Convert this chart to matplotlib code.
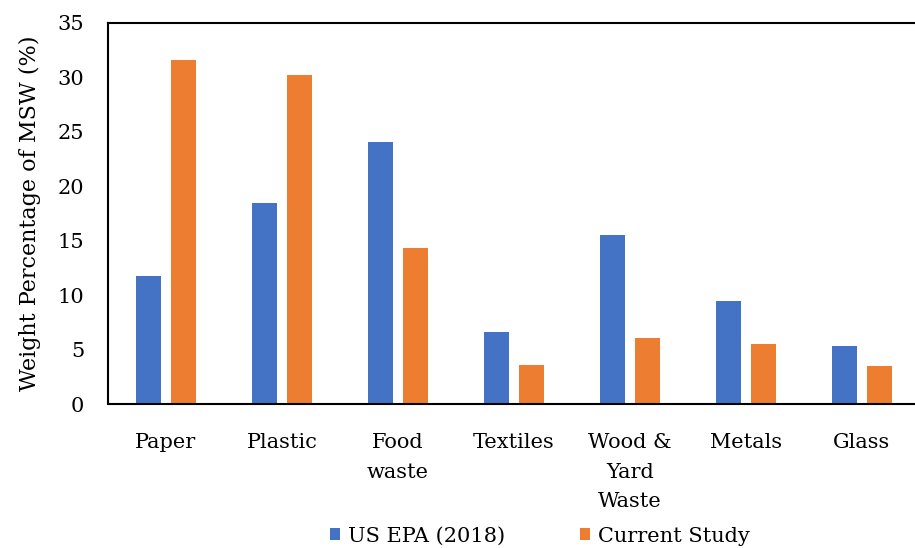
import matplotlib
matplotlib.use("Agg")
import matplotlib.pyplot as plt
import numpy as np
from matplotlib.patches import Patch

categories = ["Paper", "Plastic", "Food\nwaste", "Textiles", "Wood &\nYard\nWaste", "Metals", "Glass"]
us_epa_2018 = [11.8, 18.5, 24.1, 6.6, 15.5, 9.5, 5.3]
current_study = [31.6, 30.2, 14.3, 3.6, 6.1, 5.5, 3.5]
series_names = ["US EPA (2018)", "Current Study"]
y_ticks = [0, 5, 10, 15, 20, 25, 30, 35]

BLUE = "#4472C4"
ORANGE = "#ED7D31"
FONT = "DejaVu Serif"

plt.rcParams["font.family"] = FONT

fig = plt.figure(figsize=(9.15, 5.48), dpi=100)
ax = fig.add_axes([108 / 915, 1 - 404 / 548, 812 / 915, (404 - 23) / 548])

x = np.arange(len(categories))
w = 0.216
off = 0.147
ax.bar(x - off, us_epa_2018, width=w, color=BLUE, label=series_names[0])
ax.bar(x + off, current_study, width=w, color=ORANGE, label=series_names[1])

ax.set_xlim(-0.5, len(categories) - 0.5)
ax.set_ylim(0, 35)
ax.set_yticks(y_ticks)
ax.set_yticklabels([str(t) for t in y_ticks], fontsize=15)
ax.set_xticks(x)
ax.set_xticklabels(categories, fontsize=15, linespacing=1.7, va="top")
ax.tick_params(axis="both", length=0)
ax.tick_params(axis="y", pad=17)
ax.tick_params(axis="x", pad=21)

for side in ["left", "top", "bottom", "right"]:
    ax.spines[side].set_linewidth(1.5)
    ax.spines[side].set_color("black")

ax.set_ylabel("Weight Percentage of MSW (%)", fontsize=16, labelpad=12)

handles = [Patch(facecolor=BLUE), Patch(facecolor=ORANGE)]
fig.legend(handles, series_names, loc="center", bbox_to_anchor=(540 / 915, 1 - 536 / 548),
           ncol=2, frameon=False, fontsize=15, handlelength=0.45, handleheight=0.5,
           handletextpad=0.4, columnspacing=3.6)

fig.savefig("out.png", dpi=100)
